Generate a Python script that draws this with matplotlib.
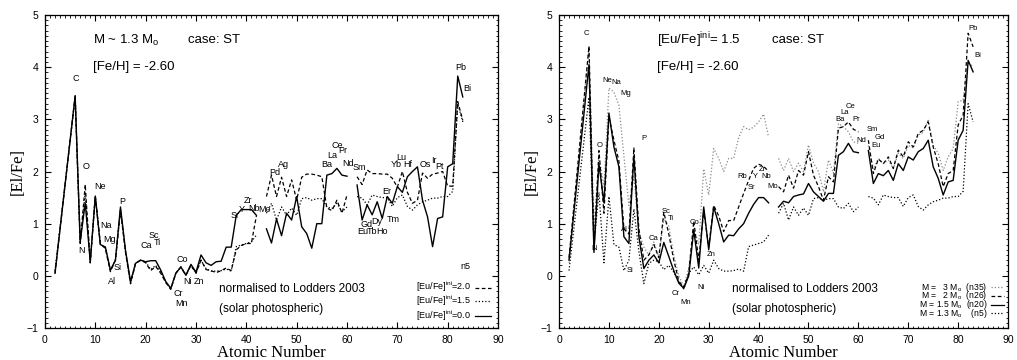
import matplotlib
matplotlib.use('Agg')
import matplotlib.pyplot as plt
import numpy as np

plt.rcParams['font.family'] = ['Liberation Sans', 'DejaVu Sans']
plt.rcParams['mathtext.fontset'] = 'custom'
plt.rcParams['mathtext.rm'] = 'Liberation Sans'
plt.rcParams['mathtext.it'] = 'Liberation Sans:italic'

# atomic numbers: He, then C..Bi (Tc=43 and Pm=61 are gaps)
Z = np.array([2] + list(range(6, 84)), dtype=float)
nan = np.nan

# left panel, M ~ 1.3 Msun (n5), different initial [Eu/Fe]
eu00 = [0.05,
        3.45, 0.65, 1.40, 0.27, 1.53, 0.60, 0.55, 0.11, 0.30, 1.32,
        0.49, -0.11, 0.24, 0.30, 0.27, 0.29, 0.29, 0.11, -0.11, -0.24,
        0.05, 0.17, 0.01, 0.22, 0.07, 0.40, 0.25, 0.20, 0.27, 0.28,
        0.55, 0.55, 1.16, 1.27, 1.27, 1.27, 1.16, nan,
        0.90, 0.63, 1.09, 0.77, 1.20, 1.07, 1.52, 0.94, 0.81, 0.53,
        1.00, 1.00, 1.93, 1.96, 2.06, 1.93, 1.91, nan,
        1.74, 1.07, 1.36, 1.17, 1.42, 1.10, 1.52, 1.39, 1.71, 1.60,
        1.90, 2.00, 2.09, 1.45, 1.13, 0.56, 1.10, 1.13, 2.09, 2.15,
        3.83, 3.43]
eu20 = [0.05,
        3.45, 0.62, 1.75, 0.25, 1.53, 0.62, 0.52, 0.08, 0.30, 1.25,
        0.45, -0.15, 0.24, 0.30, 0.25, 0.10, 0.18, 0.05, -0.13, -0.26,
        0.05, 0.17, 0.01, 0.20, 0.05, 0.30, 0.12, 0.10, 0.06, 0.10,
        0.15, 0.10, 0.50, 0.58, 0.62, 0.62, 1.15, nan,
        1.52, 1.93, 1.52, 1.89, 1.52, 1.84, 1.45, 1.89, 1.95, 1.95,
        1.93, 1.90, 1.30, 1.25, 1.45, 1.20, 1.55, nan,
        1.90, 1.75, 2.03, 1.96, 1.96, 1.95, 1.95, 1.87, 1.70, 2.00,
        1.60, 1.39, 1.45, 1.97, 1.87, 1.95, 1.97, 2.00, 1.72, 1.72,
        3.34, 2.98]
# same model as M = 1.3 Msun (n5) on the right
eu15 = [0.10,
        3.42, 0.62, 1.60, 0.25, 1.52, 0.60, 0.55, 0.10, 0.30, 1.28,
        0.47, -0.15, 0.24, 0.30, 0.27, 0.12, 0.20, 0.07, -0.12, -0.25,
        0.05, 0.17, 0.02, 0.20, 0.05, 0.30, 0.14, 0.09, 0.09, 0.10,
        0.13, 0.09, 0.56, 0.59, 0.62, 0.65, 0.78, nan,
        1.20, 1.39, 1.07, 1.32, 1.16, 1.30, 1.16, 1.48, 1.50, 1.45,
        1.48, 1.48, 1.32, 1.29, 1.39, 1.23, 1.32, nan,
        1.52, 1.49, 1.36, 1.55, 1.52, 1.50, 1.50, 1.33, 1.50, 1.55,
        1.33, 1.26, 1.36, 1.42, 1.45, 1.49, 1.49, 1.52, 1.52, 1.62,
        3.30, 2.95]

# right panel, [Eu/Fe]ini = 1.5, different masses
m30 = [0.25,
       4.40, 0.90, 2.30, 1.70, 3.60, 3.52, 3.27, 2.30, 1.35, 1.90,
       0.85, 0.55, 0.40, 0.65, 0.35, 1.10, 0.95, 0.40, 0.00, -0.20,
       0.15, 0.90, 0.60, 2.05, 1.55, 2.44, 2.25, 2.00, 2.25, 2.25,
       2.65, 2.86, 2.80, 2.85, 2.95, 3.10, 2.66, nan,
       2.25, 2.02, 2.25, 2.00, 2.16, 2.00, 2.51, 2.16, 2.00, 1.61,
       2.22, 1.97, 2.92, 2.86, 2.76, 2.57, 2.54, nan,
       2.50, 2.05, 2.25, 2.15, 2.22, 2.05, 2.35, 2.25, 2.50, 2.45,
       2.70, 2.75, 3.00, 2.50, 2.35, 2.02, 2.28, 2.44, 3.34, 3.37,
       4.10, 4.00]
m20 = [0.35,
       4.40, 0.50, 2.40, 1.20, 3.05, 2.60, 2.20, 0.90, 0.80, 2.45,
       0.90, 0.30, 0.40, 0.60, 0.35, 1.22, 0.80, 0.30, -0.10, -0.22,
       0.05, 1.05, 0.30, 1.25, 0.55, 1.35, 1.15, 0.85, 1.06, 1.06,
       1.32, 1.58, 1.83, 2.06, 2.14, 2.10, 2.00, nan,
       1.71, 1.61, 1.93, 1.68, 2.02, 1.93, 2.38, 1.93, 1.71, 1.45,
       1.90, 1.80, 2.83, 2.86, 2.95, 2.81, 2.76, nan,
       2.60, 1.96, 2.24, 2.15, 2.28, 2.06, 2.41, 2.28, 2.57, 2.47,
       2.73, 2.79, 2.95, 2.47, 2.15, 1.71, 1.96, 2.02, 2.89, 3.08,
       4.65, 4.39]
m15 = [0.30,
       4.05, 0.45, 2.15, 1.40, 3.12, 2.47, 2.09, 0.75, 0.62, 2.30,
       0.75, 0.14, 0.30, 0.40, 0.25, 0.64, 0.37, 0.10, -0.14, -0.24,
       0.00, 0.88, 0.15, 1.32, 0.50, 1.32, 1.00, 0.65, 0.78, 0.77,
       0.90, 1.00, 1.20, 1.37, 1.50, 1.50, 1.40, nan,
       1.32, 1.43, 1.40, 1.52, 1.55, 1.57, 1.77, 1.61, 1.52, 1.43,
       1.58, 1.58, 2.31, 2.38, 2.54, 2.38, 2.36, nan,
       2.40, 1.77, 1.96, 1.92, 2.02, 1.83, 2.15, 2.02, 2.28, 2.22,
       2.38, 2.44, 2.60, 2.09, 1.87, 1.55, 1.80, 1.83, 2.60, 2.79,
       4.13, 3.91]
m13 = eu15

left_labels = [('C', 6.2, 3.78), ('O', 8.2, 2.10), ('N', 7.2, 0.49), ('Ne', 10.9, 1.72),
               ('Na', 12.1, 0.97), ('Mg', 12.9, 0.70), ('Si', 14.4, 0.16), ('Al', 13.4, -0.10),
               ('P', 15.4, 1.43), ('Ca', 20.2, 0.58), ('Sc', 21.7, 0.78), ('Ti', 22.3, 0.63),
               ('Co', 27.2, 0.32), ('Ni', 28.3, -0.10), ('Zn', 30.6, -0.10), ('Cr', 26.4, -0.34),
               ('Mn', 27.2, -0.53), ('Sr', 37.8, 1.15), ('Y', 39.0, 1.27), ('Zr', 40.3, 1.44),
               ('Nb', 41.6, 1.29), ('Mo', 43.6, 1.27), ('Pd', 45.7, 1.98), ('Ag', 47.3, 2.14),
               ('Ba', 55.9, 2.14), ('La', 57.1, 2.30), ('Ce', 58.1, 2.50), ('Pr', 59.2, 2.40),
               ('Nd', 60.3, 2.15), ('Sm', 62.4, 2.08), ('Gd', 63.9, 0.99), ('Dy', 66.0, 1.05),
               ('Eu', 63.1, 0.85), ('Tb', 65.0, 0.85), ('Ho', 66.9, 0.85), ('Tm', 69.2, 1.08),
               ('Er', 67.8, 1.62), ('Yb', 69.8, 2.14), ('Lu', 70.7, 2.27), ('Hf', 72.0, 2.14),
               ('Os', 75.5, 2.14), ('Ir', 77.2, 2.22), ('Pt', 78.4, 2.09), ('Pb', 82.5, 4.00),
               ('Bi', 83.8, 3.59)]
right_labels = [('C', 5.4, 4.65), ('Ne', 9.6, 3.75), ('Na', 11.4, 3.70), ('Mg', 13.4, 3.50),
                ('O', 8.2, 2.50), ('N', 7.1, 0.53), ('P', 17.0, 2.63), ('Al', 13.2, 0.88),
                ('Si', 14.2, 0.11), ('Ca', 19.0, 0.72), ('Sc', 21.4, 1.23), ('Ti', 22.4, 1.10),
                ('Cr', 23.4, -0.34), ('Mn', 25.3, -0.51), ('Co', 27.1, 1.02), ('Ni', 28.5, -0.23),
                ('Zn', 30.4, 0.40), ('Rb', 36.7, 1.90), ('Y', 39.3, 1.90), ('Sr', 38.6, 1.70),
                ('Zr', 40.7, 2.04), ('Nb', 41.6, 1.90), ('Mo', 42.9, 1.72), ('Ba', 56.3, 3.00),
                ('La', 57.3, 3.14), ('Ce', 58.5, 3.25), ('Pr', 59.5, 3.00), ('Nd', 60.5, 2.60),
                ('Sm', 62.7, 2.81), ('Gd', 64.2, 2.65), ('Eu', 63.5, 2.49), ('Pb', 82.9, 4.74),
                ('Bi', 84.0, 4.22)]

dash = (0, (3, 2))
dot = (0, (1, 1.6))

fig = plt.figure(figsize=(10.17, 3.6), dpi=100)
axL = fig.add_axes([0.0442, 0.0889, 0.4455, 0.8694])
axR = fig.add_axes([0.5497, 0.0889, 0.4415, 0.8694])


def style(ax):
    ax.set_xlim(0, 90)
    ax.set_ylim(-1, 5)
    ax.set_xticks(range(0, 91, 10))
    ax.set_yticks(range(-1, 6))
    ax.set_xticks(range(0, 91, 1), minor=True)
    ax.set_yticks(np.arange(-1, 5.01, 0.1), minor=True)
    ax.tick_params(which='both', direction='in', top=True, right=True, labelsize=7.5, pad=5)
    ax.tick_params(which='major', length=4, width=0.8)
    ax.tick_params(which='minor', length=1.8, width=0.6)
    for s in ax.spines.values():
        s.set_linewidth(0.9)
    ax.set_xlabel('Atomic Number', family='Liberation Serif', fontsize=12, labelpad=0)
    ax.set_ylabel('[El/Fe]', family='Liberation Serif', fontsize=12, labelpad=0)
    ax.text(34.6, -0.25, 'normalised to Lodders 2003', fontsize=8.5, va='center')
    ax.text(34.6, -0.64, '(solar photospheric)', fontsize=8.5, va='center')


# left panel
style(axL)
axL.plot(Z, eu00, color='black', lw=1.0, ls='-')
axL.plot(Z, eu15, color='black', lw=0.9, ls=dot)
axL.plot(Z, eu20, color='black', lw=0.9, ls=dash)
for name, x, y in left_labels:
    axL.text(x, y, name, fontsize=6.5, ha='center', va='center')
axL.text(9.5, 4.52, 'M ~ 1.3 M$_{\\rm o}$', fontsize=9.5, va='center')
axL.text(28.5, 4.52, 'case: ST', fontsize=9.5, va='center')
axL.text(9.5, 4.0, '[Fe/H] = -2.60', fontsize=9.5, va='center')

axL.text(0.94, 0.195, 'n5', transform=axL.transAxes, fontsize=6.5, ha='right', va='center')
leg_rows = [('[Eu/Fe]$^{\\rm ini}$=2.0', dash, 0.103),
            ('[Eu/Fe]$^{\\rm ini}$=1.5', dot, 0.06),
            ('[Eu/Fe]$^{\\rm ini}$=0.0', '-', 0.012)]
for txt, ls, yy in leg_rows:
    axL.text(0.94, yy + 0.005, txt, transform=axL.transAxes, fontsize=6.5, ha='right', va='bottom')
    axL.plot([0.95, 0.985], [yy + 0.025, yy + 0.025], transform=axL.transAxes,
             color='black', lw=0.9, ls=ls)

# right panel
style(axR)
axR.plot(Z, m30, color='#8a8a8a', lw=0.9, ls=dot)
axR.plot(Z, m13, color='black', lw=0.9, ls=dot)
axR.plot(Z, m20, color='black', lw=0.9, ls=dash)
axR.plot(Z, m15, color='black', lw=1.0, ls='-')
for name, x, y in right_labels:
    axR.text(x, y, name, fontsize=5.5, ha='center', va='center')
axR.text(19.7, 4.52, '[Eu/Fe]$^{\\rm ini}$= 1.5', fontsize=9.5, va='center')
axR.text(42.6, 4.52, 'case: ST', fontsize=9.5, va='center')
axR.text(19.7, 4.0, '[Fe/H] = -2.60', fontsize=9.5, va='center')

mass_rows = [('M =   3 M$_{\\rm o}$  (n35)', dot, '#8a8a8a', 0.13),
             ('M =   2 M$_{\\rm o}$  (n26)', dash, 'black', 0.103),
             ('M = 1.5 M$_{\\rm o}$  (n20)', '-', 'black', 0.075),
             ('M = 1.3 M$_{\\rm o}$    (n5)', dot, 'black', 0.047)]
for txt, ls, col, yy in mass_rows:
    axR.text(0.955, yy, txt, transform=axR.transAxes, fontsize=6.2, ha='right', va='center')
    axR.plot([0.963, 0.99], [yy, yy], transform=axR.transAxes, color=col, lw=0.9, ls=ls)

fig.savefig('out.png', dpi=100)
